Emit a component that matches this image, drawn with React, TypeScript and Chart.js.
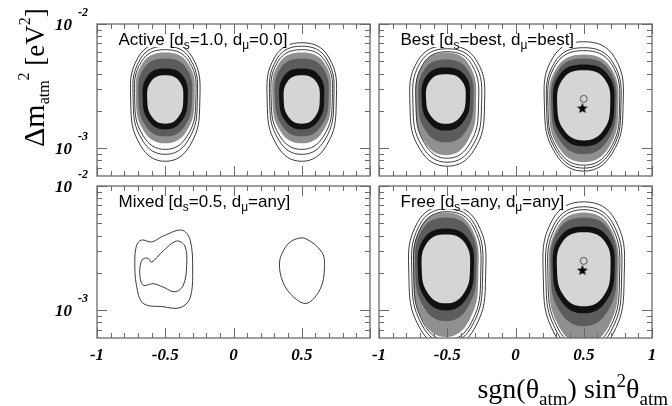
import React, { useEffect, useRef } from 'react';
import { Chart, registerables, LineController } from 'chart.js';

Chart.register(...registerables);

// A line controller whose path is closed (like a radar line), used for contours.
class ContourController extends LineController {
  static id = 'contour';
  static defaults = { ...(LineController as any).defaults };
  static overrides = { scales: { _index_: { type: 'linear' }, _value_: { type: 'linear' } } };
  update(mode: any) {
    super.update(mode);
    const line: any = (this as any)._cachedMeta.dataset;
    if (line) {
      line._loop = true;
      line._fullLoop = true;
    }
  }
}
Chart.register(ContourController as any);

type P = [number, number];

// ---------------- DATA (x = sgn(θ) sin²θ, y = Δm² in eV²) ----------------
// Active [ds=1.0, dμ=0.0]
const activeLeftLight: P[] = [[-0.5,0.00387],[-0.397,0.00346],[-0.368,0.00247],[-0.405,0.00178],[-0.5,0.00158],[-0.595,0.00178],[-0.632,0.00247],[-0.603,0.00346]];
const activeLeftBlack: P[] = [[-0.5,0.00439],[-0.371,0.00384],[-0.335,0.00249],[-0.381,0.00165],[-0.5,0.00142],[-0.619,0.00165],[-0.665,0.00249],[-0.629,0.00384]];
const activeLeftDark: P[] = [[-0.5,0.00527],[-0.346,0.00443],[-0.303,0.00256],[-0.358,0.00151],[-0.5,0.00125],[-0.642,0.00151],[-0.697,0.00256],[-0.654,0.00443]];
const activeLeftMedium: P[] = [[-0.5,0.00589],[-0.332,0.00481],[-0.285,0.00254],[-0.345,0.00137],[-0.5,0.0011],[-0.655,0.00137],[-0.715,0.00254],[-0.668,0.00481]];
const activeLeftLineA: P[] = [[-0.5,0.00622],[-0.325,0.00498],[-0.276,0.00247],[-0.339,0.00126],[-0.5,0.000982],[-0.661,0.00126],[-0.724,0.00247],[-0.675,0.00498]];
const activeLeftLineB: P[] = [[-0.5,0.00663],[-0.317,0.00522],[-0.265,0.00244],[-0.331,0.00117],[-0.5,0.000896],[-0.669,0.00117],[-0.735,0.00244],[-0.683,0.00522]];
const activeLeftLineC: P[] = [[-0.5,0.00707],[-0.303,0.00543],[-0.247,0.00236],[-0.318,0.00106],[-0.5,0.000788],[-0.682,0.00106],[-0.753,0.00236],[-0.697,0.00543]];

const activeRightLight: P[] = [[0.5,0.00387],[0.603,0.00346],[0.632,0.00247],[0.595,0.00178],[0.5,0.00158],[0.405,0.00178],[0.368,0.00247],[0.397,0.00346]];
const activeRightBlack: P[] = [[0.5,0.00439],[0.629,0.00384],[0.665,0.00249],[0.619,0.00165],[0.5,0.00142],[0.381,0.00165],[0.335,0.00249],[0.371,0.00384]];
const activeRightDark: P[] = [[0.5,0.00527],[0.654,0.00443],[0.697,0.00256],[0.642,0.00151],[0.5,0.00125],[0.358,0.00151],[0.303,0.00256],[0.346,0.00443]];
const activeRightMedium: P[] = [[0.5,0.00589],[0.668,0.00481],[0.715,0.00254],[0.655,0.00137],[0.5,0.0011],[0.345,0.00137],[0.285,0.00254],[0.332,0.00481]];
const activeRightLineA: P[] = [[0.5,0.00622],[0.675,0.00498],[0.724,0.00247],[0.661,0.00126],[0.5,0.000982],[0.339,0.00126],[0.276,0.00247],[0.325,0.00498]];
const activeRightLineB: P[] = [[0.5,0.00663],[0.683,0.00522],[0.735,0.00244],[0.669,0.00117],[0.5,0.000896],[0.331,0.00117],[0.265,0.00244],[0.317,0.00522]];
const activeRightLineC: P[] = [[0.5,0.00707],[0.697,0.00543],[0.753,0.00236],[0.682,0.00106],[0.5,0.000788],[0.318,0.00106],[0.247,0.00236],[0.303,0.00543]];

// Best [ds=best, dμ=best]
const bestLeftLight: P[] = [[-0.51,0.00394],[-0.397,0.00353],[-0.365,0.00249],[-0.406,0.00179],[-0.51,0.00158],[-0.614,0.00179],[-0.655,0.00249],[-0.623,0.00353]];
const bestLeftBlack: P[] = [[-0.51,0.00448],[-0.372,0.00389],[-0.333,0.00249],[-0.383,0.00163],[-0.51,0.00139],[-0.637,0.00163],[-0.687,0.00249],[-0.648,0.00389]];
const bestLeftDark: P[] = [[-0.51,0.00518],[-0.352,0.00431],[-0.308,0.0024],[-0.365,0.00137],[-0.51,0.00112],[-0.655,0.00137],[-0.712,0.0024],[-0.668,0.00431]];
const bestLeftMedium: P[] = [[-0.51,0.00589],[-0.338,0.00468],[-0.289,0.00228],[-0.351,0.00114],[-0.51,0.00088],[-0.669,0.00114],[-0.731,0.00228],[-0.682,0.00468]];
const bestLeftLineA: P[] = [[-0.5,0.00599],[-0.321,0.00473],[-0.271,0.00223],[-0.335,0.00109],[-0.5,0.000833],[-0.665,0.00109],[-0.729,0.00223],[-0.679,0.00473]];
const bestLeftLineB: P[] = [[-0.5,0.00633],[-0.304,0.00492],[-0.249,0.00221],[-0.319,0.00103],[-0.5,0.000774],[-0.681,0.00103],[-0.751,0.00221],[-0.696,0.00492]];
const bestLeftLineC: P[] = [[-0.5,0.00669],[-0.287,0.00512],[-0.227,0.00219],[-0.303,0.000973],[-0.5,0.00072],[-0.697,0.000973],[-0.773,0.00219],[-0.713,0.00512]];

const bestRightLight: P[] = [[0.5,0.00424],[0.651,0.00363],[0.694,0.00221],[0.64,0.00138],[0.5,0.00116],[0.36,0.00138],[0.306,0.00221],[0.349,0.00363]];
const bestRightBlack: P[] = [[0.5,0.00473],[0.675,0.00394],[0.724,0.00221],[0.661,0.00127],[0.5,0.00104],[0.339,0.00127],[0.276,0.00221],[0.325,0.00394]];
const bestRightDark: P[] = [[0.5,0.00527],[0.686,0.00427],[0.738,0.00217],[0.671,0.00114],[0.5,0.000896],[0.329,0.00114],[0.262,0.00217],[0.314,0.00427]];
const bestRightMedium: P[] = [[0.5,0.00568],[0.697,0.00447],[0.753,0.0021],[0.682,0.00101],[0.5,0.000774],[0.318,0.00101],[0.247,0.0021],[0.303,0.00447]];
const bestRightLineA: P[] = [[0.5,0.00611],[0.704,0.00474],[0.762,0.00212],[0.689,0.000976],[0.5,0.000733],[0.311,0.000976],[0.238,0.00212],[0.296,0.00474]];
const bestRightLineB: P[] = [[0.5,0.00645],[0.712,0.00494],[0.772,0.00212],[0.696,0.000938],[0.5,0.000694],[0.304,0.000938],[0.228,0.00212],[0.288,0.00494]];
const bestRightLineC: P[] = [[0.5,0.0072],[0.725,0.0054],[0.788,0.00217],[0.707,0.000908],[0.5,0.000657],[0.293,0.000908],[0.212,0.00217],[0.275,0.0054]];

// Mixed [ds=0.5, dμ=any]
const mixedLeftOuter: P[] = [[-0.674,0.00368],[-0.6,0.00355],[-0.515,0.00396],[-0.38,0.00442],[-0.319,0.00373],[-0.299,0.00215],[-0.319,0.00125],[-0.392,0.00105],[-0.515,0.00107],[-0.662,0.00114],[-0.711,0.00159],[-0.723,0.00244],[-0.711,0.0033]];
const mixedLeftInner: P[] = [[-0.662,0.00259],[-0.625,0.00262],[-0.6,0.00244],[-0.515,0.00301],[-0.417,0.00361],[-0.356,0.0033],[-0.343,0.00229],[-0.368,0.00159],[-0.429,0.00141],[-0.515,0.00154],[-0.589,0.00164],[-0.662,0.00159],[-0.686,0.00191],[-0.681,0.00236]];
const mixedRight: P[] = [[0.526,0.00378],[0.649,0.00292],[0.666,0.00215],[0.636,0.00149],[0.539,0.00114],[0.44,0.00128],[0.362,0.00169],[0.337,0.00244],[0.379,0.0032],[0.44,0.00368]];

// Free [ds=any, dμ=any]
const freeLeftLight: P[] = [[-0.51,0.00408],[-0.372,0.0035],[-0.333,0.00215],[-0.383,0.00135],[-0.51,0.00114],[-0.637,0.00135],[-0.687,0.00215],[-0.648,0.0035]];
const freeLeftBlack: P[] = [[-0.51,0.00456],[-0.35,0.0038],[-0.305,0.00213],[-0.362,0.00123],[-0.51,0.001],[-0.658,0.00123],[-0.715,0.00213],[-0.67,0.0038]];
const freeLeftDark: P[] = [[-0.51,0.00557],[-0.335,0.00443],[-0.286,0.00213],[-0.349,0.00106],[-0.51,0.000818],[-0.671,0.00106],[-0.734,0.00213],[-0.685,0.00443]];
const freeLeftMedium: P[] = [[-0.51,0.00611],[-0.324,0.00463],[-0.272,0.00193],[-0.339,0.000833],[-0.51,0.000611],[-0.681,0.000833],[-0.748,0.00193],[-0.696,0.00463]];
const freeLeftLineA: P[] = [[-0.5,0.00622],[-0.309,0.00468],[-0.255,0.0019],[-0.324,0.000796],[-0.5,0.000578],[-0.676,0.000796],[-0.745,0.0019],[-0.691,0.00468]];
const freeLeftLineB: P[] = [[-0.5,0.00657],[-0.298,0.00488],[-0.241,0.0019],[-0.314,0.000766],[-0.5,0.000547],[-0.686,0.000766],[-0.759,0.0019],[-0.702,0.00488]];
const freeLeftLineC: P[] = [[-0.5,0.00694],[-0.281,0.00507],[-0.219,0.00188],[-0.298,0.000724],[-0.5,0.000509],[-0.702,0.000724],[-0.781,0.00188],[-0.719,0.00507]];

const freeRightLight: P[] = [[0.5,0.00424],[0.653,0.00359],[0.696,0.00213],[0.641,0.00129],[0.5,0.00108],[0.359,0.00129],[0.304,0.00213],[0.347,0.00359]];
const freeRightBlack: P[] = [[0.5,0.00473],[0.676,0.00389],[0.726,0.00212],[0.663,0.00118],[0.5,0.000947],[0.337,0.00118],[0.274,0.00212],[0.324,0.00389]];
const freeRightDark: P[] = [[0.5,0.00557],[0.688,0.00438],[0.741,0.00204],[0.674,0.000979],[0.5,0.000746],[0.326,0.000979],[0.259,0.00204],[0.312,0.00438]];
const freeRightMedium: P[] = [[0.5,0.00611],[0.698,0.00456],[0.754,0.00181],[0.683,0.000746],[0.5,0.000537],[0.317,0.000746],[0.246,0.00181],[0.302,0.00456]];
const freeRightLineA: P[] = [[0.5,0.00645],[0.704,0.00475],[0.762,0.00181],[0.689,0.000717],[0.5,0.000509],[0.311,0.000717],[0.238,0.00181],[0.296,0.00475]];
const freeRightLineB: P[] = [[0.5,0.00681],[0.716,0.00495],[0.777,0.00179],[0.699,0.000678],[0.5,0.000473],[0.301,0.000678],[0.223,0.00179],[0.284,0.00495]];
const freeRightLineC: P[] = [[0.5,0.00746],[0.731,0.00531],[0.796,0.00181],[0.713,0.000644],[0.5,0.000439],[0.287,0.000644],[0.204,0.00181],[0.269,0.00531]];

// best-fit markers
const bestFitStar: P[] = [[0.49, 0.00211]];
const bestFitCircle: P[] = [[0.5, 0.0025]];

// panel labels
const panelNames = ['Active', 'Best', 'Mixed', 'Free'];
const dsValues = ['1.0', 'best', '0.5', 'any'];
const dmuValues = ['0.0', 'best', 'any', 'any'];

// axes
const xMin = -1, xMax = 1;
const yMin = 0.00062, yMax = 0.01;
const xTickValues = [-1,-0.9,-0.8,-0.7,-0.6,-0.5,-0.4,-0.3,-0.2,-0.1,0,0.1,0.2,0.3,0.4,0.5,0.6,0.7,0.8,0.9,1];
const xMajorTicks = [-1,-0.5,0,0.5,1];
const xTickLabels = ['-1','-0.5','0','0.5','1'];
const yTickValues = [0.0007,0.0008,0.0009,0.001,0.002,0.003,0.004,0.005,0.006,0.007,0.008,0.009,0.01];
const yMajorTicks = [0.001, 0.01];
const yTickExponents = ['-3', '-2'];

// ---------------- STYLE ----------------
const SERIF = '"Liberation Serif", "Times New Roman", serif';
const SANS = '"Liberation Sans", Arial, Helvetica, sans-serif';
const FILL_COLORS = ['#d5d5d5', '#111111', '#5c5c5c', '#909090'];
const LINE_COLOR = '#262626';
const FRAME_COLOR = '#6b6b6b';

type Part = { t: string; font: string; dy: number };

function partsWidth(ctx: CanvasRenderingContext2D, parts: Part[]) {
  let w = 0;
  for (const p of parts) { ctx.font = p.font; w += ctx.measureText(p.t).width; }
  return w;
}
function drawParts(ctx: CanvasRenderingContext2D, parts: Part[], x: number, y: number) {
  let cx = x;
  for (const p of parts) {
    ctx.font = p.font;
    ctx.fillText(p.t, cx, y + p.dy);
    cx += ctx.measureText(p.t).width;
  }
}

function labelParts(i: number): Part[] {
  const big = `17px ${SANS}`, small = `12px ${SANS}`;
  return [
    { t: `${panelNames[i]} [d`, font: big, dy: 0 },
    { t: 's', font: small, dy: 3.5 },
    { t: `=${dsValues[i]}, d`, font: big, dy: 0 },
    { t: 'μ', font: small, dy: 3.5 },
    { t: `=${dmuValues[i]}]`, font: big, dy: 0 },
  ];
}

const yTitleParts: Part[] = [
  { t: 'Δm', font: `30px ${SERIF}`, dy: 0 },
  { t: 'atm', font: `16px ${SERIF}`, dy: 5 },
  { t: '2', font: `16px ${SERIF}`, dy: -15 },
  { t: ' [eV', font: `27px ${SERIF}`, dy: 0 },
  { t: '2', font: `16px ${SERIF}`, dy: -14 },
  { t: ']', font: `27px ${SERIF}`, dy: 0 },
];
const xTitleParts: Part[] = [
  { t: 'sgn(θ', font: `28px ${SERIF}`, dy: 0 },
  { t: 'atm', font: `19px ${SERIF}`, dy: 7 },
  { t: ') sin', font: `28px ${SERIF}`, dy: 0 },
  { t: '2', font: `19px ${SERIF}`, dy: -11 },
  { t: 'θ', font: `28px ${SERIF}`, dy: 0 },
  { t: 'atm', font: `19px ${SERIF}`, dy: 7 },
];

const panelPlugin = {
  id: 'panel',
  afterDatasetsDraw(chart: any, _args: any, opts: any) {
    const { ctx, chartArea: a } = chart;
    const parts: Part[] = opts.label;
    const x0 = a.left + 21.5, base = a.top + 21;
    ctx.save();
    const w = partsWidth(ctx, parts);
    ctx.fillStyle = '#ffffff';
    ctx.fillRect(x0 - 2, base - 14, w + 4, 16);
    ctx.fillStyle = '#000';
    ctx.textBaseline = 'alphabetic';
    ctx.textAlign = 'left';
    drawParts(ctx, parts, x0, base);
    ctx.restore();
  },
  afterDraw(chart: any, _args: any, opts: any) {
    const { ctx, chartArea: a } = chart;
    const xs = chart.scales.x, ys = chart.scales.y;
    ctx.save();
    // ticks (inward, mirrored)
    ctx.strokeStyle = FRAME_COLOR;
    ctx.lineWidth = 1;
    ctx.beginPath();
    for (const v of xTickValues) {
      const px = Math.round(xs.getPixelForValue(v)) + 0.5;
      const len = xMajorTicks.includes(v) ? 10 : 5;
      ctx.moveTo(px, a.bottom); ctx.lineTo(px, a.bottom - len);
      ctx.moveTo(px, a.top); ctx.lineTo(px, a.top + len);
    }
    for (const v of yTickValues) {
      const py = Math.round(ys.getPixelForValue(v)) + 0.5;
      const len = yMajorTicks.includes(v) ? 10 : 5;
      ctx.moveTo(a.left, py); ctx.lineTo(a.left + len, py);
      ctx.moveTo(a.right, py); ctx.lineTo(a.right - len, py);
    }
    ctx.stroke();
    // frame
    ctx.lineWidth = 1.3;
    ctx.strokeRect(a.left, a.top, a.right - a.left, a.bottom - a.top);

    ctx.fillStyle = '#000';
    // y tick labels
    if (opts.yLabels) {
      yMajorTicks.forEach((v, i) => {
        const py = ys.getPixelForValue(v);
        ctx.font = `italic bold 17px ${SERIF}`;
        ctx.textAlign = 'right';
        ctx.textBaseline = 'alphabetic';
        ctx.fillText('10', a.left - 25, py + 6);
        ctx.font = `italic bold 12px ${SERIF}`;
        ctx.textAlign = 'left';
        ctx.fillText(yTickExponents[i], a.left - 19, py - 8);
      });
    }
    // x tick labels
    if (opts.xLabels) {
      ctx.font = `italic bold 17px ${SERIF}`;
      ctx.textAlign = 'center';
      ctx.textBaseline = 'alphabetic';
      xMajorTicks.forEach((v, i) => {
        if (opts.skipLastX && i === xMajorTicks.length - 1) return;
        ctx.fillText(xTickLabels[i], xs.getPixelForValue(v), a.bottom + 22);
      });
    }
    // axis titles
    ctx.textAlign = 'left';
    ctx.textBaseline = 'alphabetic';
    if (opts.yTitle) {
      ctx.save();
      ctx.translate(44, 147);
      ctx.rotate(-Math.PI / 2);
      drawParts(ctx, yTitleParts, 0, 0);
      ctx.restore();
    }
    if (opts.xTitle) {
      const w = partsWidth(ctx, xTitleParts);
      drawParts(ctx, xTitleParts, 668 - w, 398);
    }
    ctx.restore();
  },
};

function toXY(p: P[]) { return p.map(([x, y]) => ({ x, y })); }

function ovalSets(fills: P[][], lines: P[][], tension = 0.45) {
  const out: any[] = [];
  lines.forEach((l) => out.push({
    type: 'contour', data: toXY(l), borderColor: LINE_COLOR, borderWidth: 0.9,
    fill: false, tension, pointRadius: 0, spanGaps: true,
  }));
  fills.forEach((f, i) => out.push({
    type: 'contour', data: toXY(f), borderWidth: 0, borderColor: FILL_COLORS[i],
    backgroundColor: FILL_COLORS[i], fill: 'shape', tension, pointRadius: 0, spanGaps: true,
  }));
  return out;
}

function makeStar(size: number) {
  const c = document.createElement('canvas');
  c.width = size; c.height = size;
  const g = c.getContext('2d')!;
  g.fillStyle = '#000';
  g.beginPath();
  const cx = size / 2, cy = size / 2 + 0.5, R = size / 2 - 0.3, r = R * 0.42;
  for (let i = 0; i < 10; i++) {
    const ang = -Math.PI / 2 + (i * Math.PI) / 5;
    const rad = i % 2 === 0 ? R : r;
    g.lineTo(cx + rad * Math.cos(ang), cy + rad * Math.sin(ang));
  }
  g.closePath();
  g.fill();
  return c;
}

function markerSets(star: HTMLCanvasElement) {
  return [
    { type: 'scatter', data: toXY(bestFitStar), pointStyle: star, pointRadius: 6 },
    { type: 'scatter', data: toXY(bestFitCircle), pointStyle: 'circle', pointRadius: 3.5,
      borderColor: '#555', borderWidth: 1, backgroundColor: 'rgba(0,0,0,0)' },
  ];
}

export default function App() {
  const refs = [useRef<HTMLCanvasElement>(null), useRef<HTMLCanvasElement>(null),
    useRef<HTMLCanvasElement>(null), useRef<HTMLCanvasElement>(null)];

  useEffect(() => {
    const star = makeStar(12);
    const panels = [
      {
        pad: { left: 97, right: 302, top: 24, bottom: 230 },
        sets: [
          ...ovalSets([activeLeftLight, activeLeftBlack, activeLeftDark, activeLeftMedium], [activeLeftLineA, activeLeftLineB, activeLeftLineC]),
          ...ovalSets([activeRightLight, activeRightBlack, activeRightDark, activeRightMedium], [activeRightLineA, activeRightLineB, activeRightLineC]),
        ],
        opts: { label: labelParts(0), yLabels: true, xLabels: false, yTitle: true },
      },
      {
        pad: { left: 379, right: 20, top: 24, bottom: 230 },
        sets: [
          ...markerSets(star),
          ...ovalSets([bestLeftLight, bestLeftBlack, bestLeftDark, bestLeftMedium], [bestLeftLineA, bestLeftLineB, bestLeftLineC]),
          ...ovalSets([bestRightLight, bestRightBlack, bestRightDark, bestRightMedium], [bestRightLineA, bestRightLineB, bestRightLineC]),
        ],
        opts: { label: labelParts(1) },
      },
      {
        pad: { left: 97, right: 302, top: 186, bottom: 68 },
        sets: [
          ...ovalSets([], [mixedLeftOuter, mixedLeftInner, mixedRight], 0.35),
        ],
        opts: { label: labelParts(2), yLabels: true, xLabels: true, skipLastX: true },
      },
      {
        pad: { left: 379, right: 20, top: 186, bottom: 68 },
        sets: [
          ...markerSets(star),
          ...ovalSets([freeLeftLight, freeLeftBlack, freeLeftDark, freeLeftMedium], [freeLeftLineA, freeLeftLineB, freeLeftLineC]),
          ...ovalSets([freeRightLight, freeRightBlack, freeRightDark, freeRightMedium], [freeRightLineA, freeRightLineB, freeRightLineC]),
        ],
        opts: { label: labelParts(3), xLabels: true, xTitle: true },
      },
    ];

    const charts = panels.map((p, i) => new Chart(refs[i].current as HTMLCanvasElement, {
      type: 'contour' as any,
      data: { datasets: p.sets as any },
      options: {
        animation: false,
        responsive: false,
        events: [],
        layout: { padding: p.pad },
        elements: { point: { radius: 0, hitRadius: 0 }, line: { capBezierPoints: false } },
        scales: {
          x: { type: 'linear', min: xMin, max: xMax, display: false },
          y: { type: 'logarithmic', min: yMin, max: yMax, display: false },
        },
        plugins: {
          legend: { display: false },
          tooltip: { enabled: false },
          panel: p.opts,
        } as any,
      },
      plugins: [panelPlugin as any],
    }));
    return () => charts.forEach((c) => c.destroy());
  }, []);

  const cstyle: React.CSSProperties = { position: 'absolute', left: 0, top: 0, width: 672, height: 406 };
  return (
    <div style={{ position: 'absolute', left: 0, top: 0, width: 672, height: 406, background: '#fff' }}>
      {refs.map((r, i) => (
        <canvas key={i} ref={r} width={672} height={406} style={cstyle} />
      ))}
    </div>
  );
}
